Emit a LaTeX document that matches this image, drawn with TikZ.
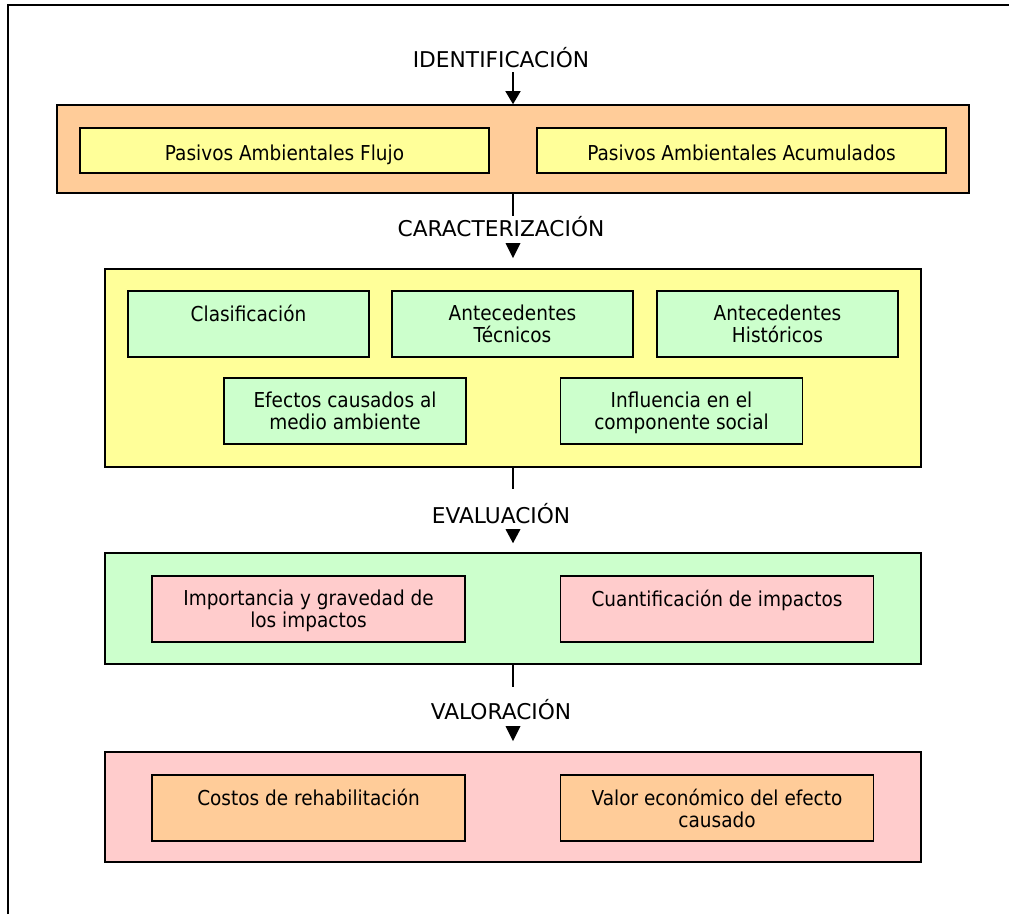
\documentclass[tikz,border=0pt]{standalone}
\usepackage{fontspec}
\setmainfont{DejaVu Sans}
\newfontfamily\boxfont[FakeStretch=0.9]{DejaVu Sans}
\usetikzlibrary{arrows.meta}
\definecolor{peach}{HTML}{FFCC99}
\definecolor{lyellow}{HTML}{FFFF99}
\definecolor{lgreen}{HTML}{CCFFCC}
\definecolor{lpink}{HTML}{FFCCCC}
\tikzset{
  grp/.style={draw=black, line width=1.2pt, rectangle, inner sep=0pt,
    minimum width=816*0.75pt},
  inbox/.style={draw=black, line width=1.2pt, rectangle, inner sep=0pt,
    minimum height=66*0.75pt},
  intext/.style={inner sep=0pt, align=center, anchor=north,
    font=\boxfont\fontsize{15.4pt}{16.5pt}\selectfont},
  intextb/.style={inner sep=0pt, anchor=base,
    font=\boxfont\fontsize{15.4pt}{16.5pt}\selectfont},
  ttl/.style={inner sep=0pt, anchor=base, font=\fontsize{16.3pt}{19pt}\selectfont},
  conn/.style={draw=black, line width=1.1pt},
  tri/.style={fill=black},
}
\begin{document}
\begin{tikzpicture}[x=0.75pt,y=-0.75pt]
\useasboundingbox (0,0) rectangle (1009,914);
% frame
\draw[line width=1.5pt] (8,914) -- (8,5) -- (1009,5);

% titles
\node[ttl] (tid) at (501,67) {IDENTIFICACIÓN};
\node[ttl] (tca) at (501,236) {CARACTERIZACIÓN};
\node[ttl] (tev) at (501,523) {EVALUACIÓN};
\node[ttl] (tva) at (501,719) {VALORACIÓN};

% group 1: identificacion
\node[grp, fill=peach, minimum width=912*0.75pt, minimum height=88*0.75pt] (g1) at (513,149) {};
\node[inbox, fill=lyellow, minimum width=409*0.75pt, minimum height=45*0.75pt] (pf) at (284.5,150.5) {};
\node[inbox, fill=lyellow, minimum width=409*0.75pt, minimum height=45*0.75pt] (pa) at (741.5,150.5) {};
\node[intextb] (pft) at (284.5,160) {Pasivos Ambientales Flujo};
\node[intextb] (pat) at (741.5,160) {Pasivos Ambientales Acumulados};

% group 2: caracterizacion
\node[grp, fill=lyellow, minimum height=198*0.75pt] (g2) at (513,368) {};
\node[inbox, fill=lgreen, minimum width=241*0.75pt] (cla) at (248.5,324) {};
\node[inbox, fill=lgreen, minimum width=241*0.75pt] (tec) at (512.5,324) {};
\node[inbox, fill=lgreen, minimum width=241*0.75pt] (his) at (777.5,324) {};
\node[inbox, fill=lgreen, minimum width=242*0.75pt] (efe) at (345,411) {};
\node[inbox, fill=lgreen, minimum width=242*0.75pt] (inf) at (681.5,411) {};
\node[intext] at ([yshift=-14.5*0.75pt]cla.north) {Clasificación};
\node[intext] at ([yshift=-14.5*0.75pt]tec.north) {Antecedentes\\Técnicos};
\node[intext] at ([yshift=-14.5*0.75pt]his.north) {Antecedentes\\Históricos};
\node[intext] at ([yshift=-14.5*0.75pt]efe.north) {Efectos causados al\\medio ambiente};
\node[intext] at ([yshift=-14.5*0.75pt]inf.north) {Influencia en el\\componente social};

% group 3: evaluacion
\node[grp, fill=lgreen, minimum height=111*0.75pt] (g3) at (513,608.5) {};
\node[inbox, fill=lpink, minimum width=313*0.75pt] (imp) at (308.5,609) {};
\node[inbox, fill=lpink, minimum width=313*0.75pt] (cua) at (717,609) {};
\node[intext] at ([yshift=-14.5*0.75pt]imp.north) {Importancia y gravedad de\\los impactos};
\node[intext] at ([yshift=-14.5*0.75pt]cua.north) {Cuantificación de impactos};

% group 4: valoracion
\node[grp, fill=lpink, minimum height=110*0.75pt] (g4) at (513,807) {};
\node[inbox, fill=peach, minimum width=313*0.75pt] (cos) at (308.5,808) {};
\node[inbox, fill=peach, minimum width=313*0.75pt] (val) at (717,808) {};
\node[intext] at ([yshift=-14.5*0.75pt]cos.north) {Costos de rehabilitación};
\node[intext] at ([yshift=-14.5*0.75pt]val.north) {Valor económico del efecto\\causado};

% connectors
\coordinate (a0) at (513,72);
\draw[conn, -{Triangle[width=15*0.75pt,length=13*0.75pt]}] (a0) -- (g1.north);

\coordinate (a1) at ([yshift=-22*0.75pt]g1.south);
\draw[conn] (g1.south) -- (a1);
\fill[tri] ([shift={(-7.5,-25)}]g2.north) -- ([shift={(7.5,-25)}]g2.north) -- ([shift={(0,-10)}]g2.north) -- cycle;

\coordinate (a2) at ([yshift=-21*0.75pt]g2.south);
\draw[conn] (g2.south) -- (a2);
\fill[tri] ([shift={(-7.5,-23)}]g3.north) -- ([shift={(7.5,-23)}]g3.north) -- ([shift={(0,-9)}]g3.north) -- cycle;

\coordinate (a3) at ([yshift=-22*0.75pt]g3.south);
\draw[conn] (g3.south) -- (a3);
\fill[tri] ([shift={(-7.5,-25)}]g4.north) -- ([shift={(7.5,-25)}]g4.north) -- ([shift={(0,-10)}]g4.north) -- cycle;
\end{tikzpicture}
\end{document}
